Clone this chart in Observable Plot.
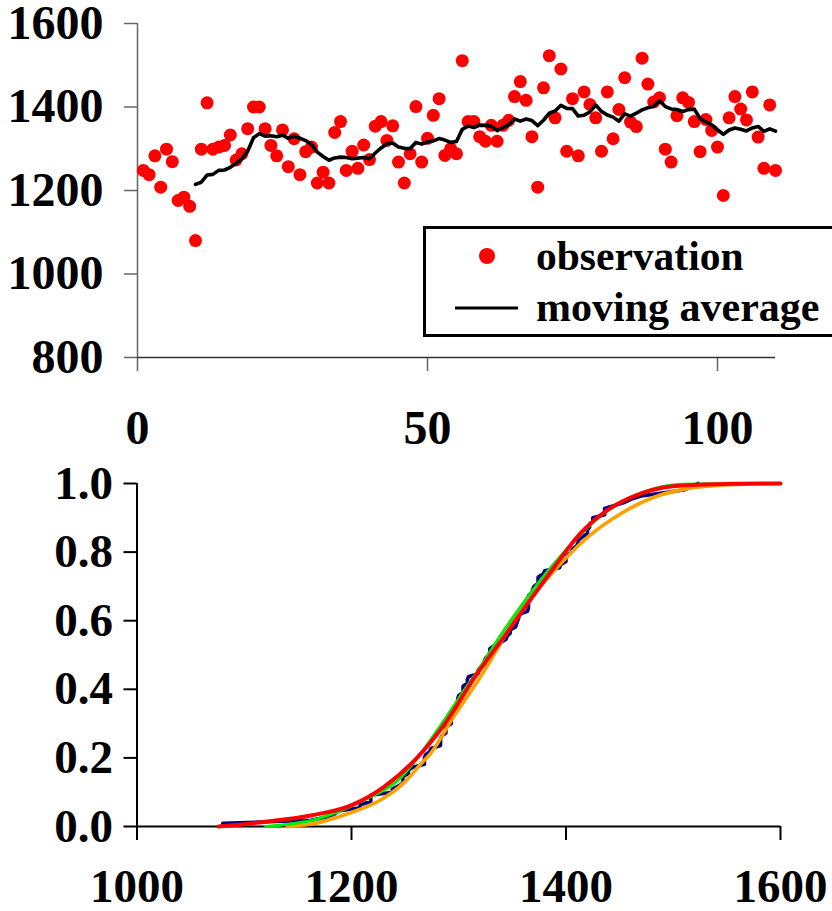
<!DOCTYPE html>
<html><head><meta charset="utf-8">
<script src="https://cdn.jsdelivr.net/npm/d3@7"></script>
<script src="https://cdn.jsdelivr.net/npm/@observablehq/plot@0.6"></script>
<style>
body{margin:0;background:#fff;}
#wrap{position:relative;width:832px;height:911px;overflow:hidden;background:#fff;}
#wrap svg.plotsvg{display:block;}
#legend{position:absolute;left:0;top:0;}
</style></head><body><div id="wrap"></div>
<script>
// ---------- data ----------
const obsValue = [1248,1238,1283,1208,1299,1269,1176,1184,1162,1080,
  1299,1410,1299,1304,1308,1333,1273,1288,1348,1400,
  1400,1348,1308,1283,1345,1257,1324,1238,1293,1304,
  1218,1244,1218,1339,1365,1248,1294,1253,1309,1274,
  1354,1365,1320,1355,1268,1218,1288,1401,1268,1325,
  1380,1420,1284,1300,1288,1511,1365,1365,1329,1318,
  1356,1318,1356,1368,1425,1461,1416,1329,1208,1446,
  1523,1374,1491,1294,1420,1283,1436,1406,1374,1294,
  1436,1324,1394,1470,1364,1353,1517,1455,1412,1422,
  1299,1268,1379,1422,1411,1365,1293,1370,1344,1304,
  1188,1374,1425,1395,1369,1436,1328,1253,1405,1248];
const obsIndex = obsValue.map((_, i) => i + 1);
const movingWindow = 10;
const topXTicks = [0, 50, 100];
const topYTicks = [800, 1000, 1200, 1400, 1600];
const legendLabels = ["observation", "moving average"];

const redX    = [1076,1118,1162,1199,1230,1261,1286,1317,1342,1364,1389,1413,1438,1469,1500,1540,1600];
const redP    = [0.000,0.013,0.032,0.061,0.115,0.200,0.295,0.445,0.552,0.649,0.756,0.853,0.921,0.970,0.992,0.998,1.000];
const greenX  = [1120,1168,1211,1243,1283,1305,1319,1342,1394,1432,1482,1510,1600];
const greenP  = [0.000,0.022,0.076,0.134,0.294,0.397,0.460,0.571,0.785,0.905,0.985,0.998,1.000];
const orangeX = [1140,1170,1199,1224,1249,1264,1274,1295,1320,1358,1389,1420,1451,1482,1513,1544,1600];
const orangeP = [0.000,0.012,0.040,0.072,0.128,0.180,0.214,0.319,0.435,0.630,0.746,0.843,0.912,0.960,0.985,0.995,1.000];
const botXTicks = [1000, 1200, 1400, 1600];
const botYTicks = [0, 0.2, 0.4, 0.6, 0.8, 1.0];

// ---------- build ----------
const FONT = '"Liberation Serif","Times New Roman",serif';
const wrap = document.getElementById("wrap");
const obs = obsIndex.map((t, i) => ({t, v: obsValue[i]}));

const topPlot = Plot.plot({
  width: 832, height: 450,
  marginLeft: 137, marginRight: 57, marginTop: 23, marginBottom: 93,
  x: {domain: [0, 110]},
  y: {domain: [800, 1600]},
  style: {fontFamily: FONT, fontWeight: "bold", fontSize: "48px", color: "#000", background: "transparent", overflow: "visible"},
  marks: [
    Plot.axisY({ticks: topYTicks, tickSize: 13, tickPadding: 21, tickFormat: d => String(d), label: null, stroke: "#666", strokeWidth: 1.5, fill: "#000", fontSize: 48, fontWeight: "bold"}),
    Plot.axisX({ticks: topXTicks, tickSize: 14, tickPadding: 38, tickFormat: d => String(d), label: null, stroke: "#666", strokeWidth: 1.5, fill: "#000", fontSize: 48, fontWeight: "bold"}),
    Plot.ruleX([topXTicks[0]], {stroke: "#666", strokeWidth: 1.5}),
    Plot.ruleY([topYTicks[0]], {stroke: "#333", strokeWidth: 1.5}),
    Plot.dot(obs, {x: "t", y: "v", r: 6.5, fill: "#ff0000", stroke: "none"}),
    Plot.lineY(obs, Plot.windowY({k: movingWindow, anchor: "end", strict: true, reduce: "mean"}, {x: "t", y: "v", stroke: "#000", strokeWidth: 3.6}))
  ]
});
topPlot.classList.add("plotsvg");
wrap.appendChild(topPlot);

const sorted = [...obsValue].sort((a, b) => a - b);
const navy = sorted.map((v, i) => ({x: v, p: (i + 1) / sorted.length}));
const mk = (xs, ps) => xs.map((x, i) => ({x, p: ps[i]}));

const botPlot = Plot.plot({
  width: 832, height: 461,
  marginLeft: 136.5, marginRight: 52, marginTop: 33, marginBottom: 85,
  x: {domain: [1000, 1600]},
  y: {domain: [0, 1]},
  style: {fontFamily: FONT, fontWeight: "bold", fontSize: "47px", color: "#000", background: "transparent", overflow: "visible"},
  marks: [
    Plot.axisY({ticks: botYTicks, tickSize: 13, tickPadding: 11, tickFormat: d3.format(".1f"), label: null, stroke: "#000", strokeWidth: 2, fontSize: 47, fontWeight: "bold"}),
    Plot.axisX({ticks: botXTicks, tickSize: 14, tickPadding: 28, tickFormat: d => String(d), label: null, stroke: "#000", strokeWidth: 2, fontSize: 47, fontWeight: "bold"}),
    Plot.ruleX([botXTicks[0]], {stroke: "#000", strokeWidth: 2}),
    Plot.ruleY([botYTicks[0]], {stroke: "#000", strokeWidth: 2}),
    Plot.line(navy, {x: "x", y: "p", stroke: "#000080", strokeWidth: 3.6}),
    Plot.line(mk(orangeX, orangeP), {x: "x", y: "p", stroke: "#ffa000", strokeWidth: 3.6, curve: "monotone-x"}),
    Plot.line(mk(greenX, greenP), {x: "x", y: "p", stroke: "#00ee00", strokeWidth: 3, curve: "monotone-x"}),
    Plot.line(mk(redX, redP), {x: "x", y: "p", stroke: "#ff0000", strokeWidth: 4, curve: "monotone-x"})
  ]
});
botPlot.classList.add("plotsvg");
wrap.appendChild(botPlot);

// legend overlay (top panel)
const NS = "http://www.w3.org/2000/svg";
const lg = document.createElementNS(NS, "svg");
lg.setAttribute("id", "legend");
lg.setAttribute("width", 832); lg.setAttribute("height", 450);
lg.innerHTML = `
  <rect x="424.5" y="227.5" width="420" height="108" fill="#fff" stroke="#000" stroke-width="3"/>
  <circle cx="487" cy="256" r="8" fill="#ff0000"/>
  <line x1="455" x2="518" y1="308" y2="308" stroke="#000" stroke-width="3"/>
  <text x="536" y="270" font-family='${FONT}' font-weight="bold" font-size="41.5">${legendLabels[0]}</text>
  <text x="536" y="321" font-family='${FONT}' font-weight="bold" font-size="42">${legendLabels[1]}</text>`;
wrap.appendChild(lg);
</script>
</body></html>
